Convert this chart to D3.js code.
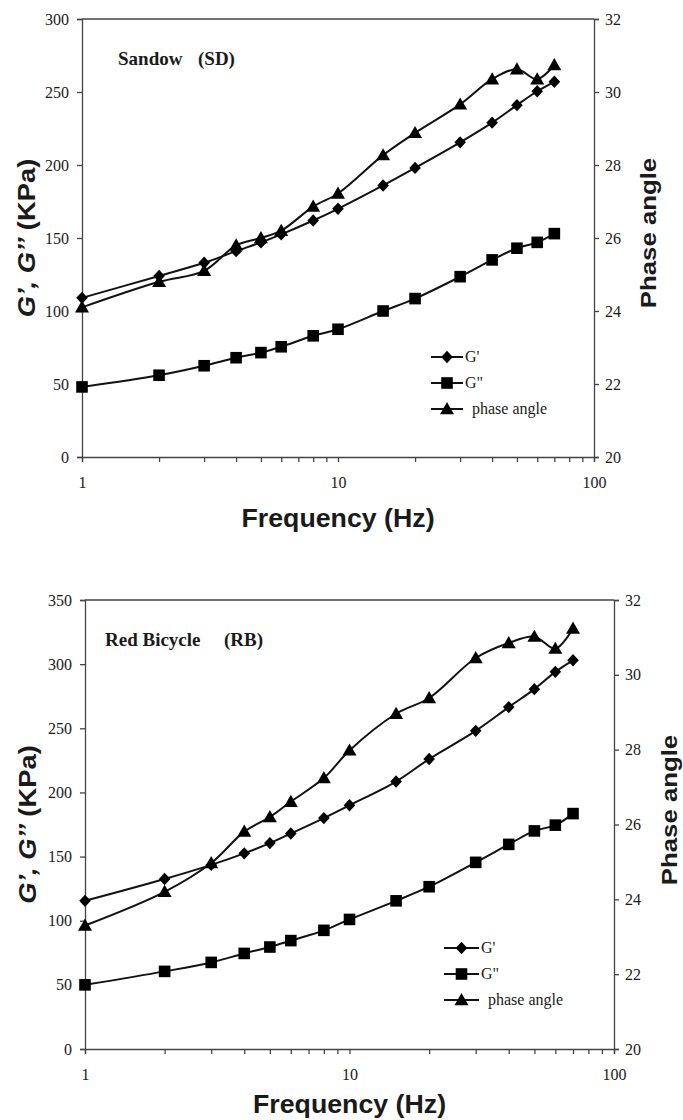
<!DOCTYPE html>
<html>
<head>
<meta charset="utf-8">
<script src="https://cdn.jsdelivr.net/npm/d3@7"></script>
<style>
  body { margin: 0; background: #fff; }
  svg text { fill: #1a1a1a; }
</style>
</head>
<body>
<script>
// frequencies (Hz)
var freq = [1, 2, 3, 4, 5, 6, 8, 10, 15, 20, 30, 40, 50, 60, 70];

// Sandow (SD)
var sdStorage = [109, 124, 133, 141, 147, 152.5, 162, 170, 186, 198, 215.5, 229, 241, 250.5, 257];
var sdLoss = [48, 56, 62.5, 68, 71.5, 75.5, 83, 87.5, 100, 108.5, 123.5, 135, 143, 147, 153];
var sdPhase = [24.1, 24.8, 25.1, 25.8, 26.0, 26.2, 26.86, 27.22, 28.27, 28.88, 29.66, 30.35, 30.62, 30.35, 30.74];

// Red Bicycle (RB)
var rbStorage = [115.5, 132.5, 143.5, 152.5, 160.5, 168, 180, 190, 208.5, 226, 248, 266.5, 280.5, 294, 303];
var rbLoss = [50, 60.5, 67.5, 74.5, 79.5, 84.5, 92.5, 101, 115.5, 126.5, 145.5, 159.5, 170, 174.5, 183.5];
var rbPhase = [23.3, 24.2, 24.97, 25.81, 26.2, 26.61, 27.24, 27.98, 28.96, 29.38, 30.45, 30.85, 31.02, 30.7, 31.24];

// ticks
var xLabelTicks = [1, 10, 100];
var sdLeftTicks = [0, 50, 100, 150, 200, 250, 300];
var rbLeftTicks = [0, 50, 100, 150, 200, 250, 300, 350];
var rightTicks = [20, 22, 24, 26, 28, 30, 32];

var seriesNames = ["G'", "G\"", "phase angle"];

var svg = d3.select("body").append("svg")
  .attr("width", 683)
  .attr("height", 1120);

// x minor ticks: 1..9, 10..90, 100
var xAllTicks = [];
[1, 10].forEach(function(p){ for (var i = 1; i < 10; i++) xAllTicks.push(i * p); });
xAllTicks.push(100);

var serif = "'Liberation Serif', 'Times New Roman', serif";
var sans = "'Liberation Sans', Arial, sans-serif";

function markerPath(kind){
  if (kind === "diamond") return "M0,-6.2L5.8,0L0,6.2L-5.8,0Z";
  if (kind === "square") return "M-5.8,-5.8H5.8V5.8H-5.8Z";
  return "M0,-7L7,5.2L-7,5.2Z";
}

function drawPanel(cfg){
  var g = svg.append("g");

  var x = d3.scaleLog().domain([1, 100]).range([cfg.left, cfg.right]);
  var yL = d3.scaleLinear().domain([0, cfg.leftMax]).range([cfg.bottom, cfg.top]);
  var yR = d3.scaleLinear().domain([20, 32]).range([cfg.bottom, cfg.top]);

  // frame top line
  g.append("line")
    .attr("x1", cfg.left).attr("x2", cfg.right)
    .attr("y1", cfg.top).attr("y2", cfg.top)
    .attr("stroke", "#444").attr("stroke-width", 1.3);

  var xAxis = g.append("g")
    .attr("transform", "translate(0," + cfg.bottom + ")")
    .call(d3.axisBottom(x).tickValues(xAllTicks).tickSize(5).tickPadding(15)
      .tickFormat(function(d){ return xLabelTicks.indexOf(d) >= 0 ? d : ""; }));

  var leftAxis = g.append("g")
    .attr("transform", "translate(" + cfg.left + ",0)")
    .call(d3.axisLeft(yL).tickValues(cfg.leftTicks).tickSize(5).tickPadding(8));

  var rightAxis = g.append("g")
    .attr("transform", "translate(" + cfg.right + ",0)")
    .call(d3.axisRight(yR).tickValues(rightTicks).tickSize(5).tickPadding(6));

  [xAxis, leftAxis, rightAxis].forEach(function(a){
    a.select(".domain").attr("stroke", "#444").attr("stroke-width", 1.3);
    a.selectAll(".tick line").attr("stroke", "#444").attr("stroke-width", 1.3);
    a.selectAll("text")
      .attr("font-family", serif)
      .attr("font-size", 16)
      .attr("fill", "#222");
  });

  var line = d3.line().curve(d3.curveCatmullRom.alpha(0.5));

  var series = [
    { vals: cfg.storage, scale: yL, kind: "diamond" },
    { vals: cfg.loss, scale: yL, kind: "square" },
    { vals: cfg.phase, scale: yR, kind: "triangle" }
  ];

  series.forEach(function(s){
    var pts = freq.map(function(f, i){ return [x(f), s.scale(s.vals[i])]; });
    g.append("path")
      .attr("d", line(pts))
      .attr("fill", "none")
      .attr("stroke", "#111")
      .attr("stroke-width", 2);
    g.selectAll(null).data(pts).enter().append("path")
      .attr("d", markerPath(s.kind))
      .attr("transform", function(p){ return "translate(" + p[0] + "," + p[1] + ")"; })
      .attr("fill", "#000");
  });

  // panel label
  g.append("text")
    .attr("x", cfg.labelX).attr("y", cfg.labelY)
    .attr("font-family", serif)
    .attr("font-weight", "bold").attr("font-size", 19)
    .text(cfg.name);
  g.append("text")
    .attr("x", cfg.codeX).attr("y", cfg.labelY)
    .attr("font-family", serif)
    .attr("font-weight", "bold").attr("font-size", 19)
    .text(cfg.code);

  // legend
  series.forEach(function(s, i){
    var ly = cfg.legY + i * cfg.legStep;
    g.append("line")
      .attr("x1", cfg.legX).attr("x2", cfg.legX + cfg.legLen)
      .attr("y1", ly).attr("y2", ly)
      .attr("stroke", "#111").attr("stroke-width", 2);
    g.append("path")
      .attr("d", markerPath(s.kind))
      .attr("transform", "translate(" + (cfg.legX + cfg.legLen / 2) + "," + ly + ")")
      .attr("fill", "#000");
    g.append("text")
      .attr("x", cfg.legX + cfg.legLen + (i === 2 ? 9 : 2))
      .attr("y", ly + 5)
      .attr("font-family", serif)
      .attr("font-size", 16)
      .text(seriesNames[i]);
  });

  // axis titles
  g.append("text")
    .attr("transform", "translate(" + ((cfg.left + cfg.right) / 2) + "," + cfg.xTitleY + ") scale(1.07,1)")
    .attr("text-anchor", "middle")
    .attr("font-family", sans)
    .attr("font-weight", "bold").attr("font-size", 25)
    .text("Frequency (Hz)");

  var yt = g.append("text")
    .attr("transform", "translate(" + cfg.yTitleX + "," + ((cfg.top + cfg.bottom) / 2) + ") rotate(-90) scale(1.14,1)")
    .attr("text-anchor", "middle")
    .attr("font-family", sans)
    .attr("font-weight", "bold").attr("font-size", 24);
  yt.append("tspan").attr("font-style", "italic").text("G\u2019, G\u2019\u2019");
  yt.append("tspan").text(" (KPa)");

  g.append("text")
    .attr("transform", "translate(" + cfg.rTitleX + "," + cfg.rTitleY + ") rotate(-90) scale(1.12,1)")
    .attr("text-anchor", "middle")
    .attr("font-family", sans)
    .attr("font-weight", "bold").attr("font-size", 23)
    .text("Phase angle");
}

drawPanel({
  left: 82, right: 594, top: 19, bottom: 457,
  leftMax: 300, leftTicks: sdLeftTicks,
  storage: sdStorage, loss: sdLoss, phase: sdPhase,
  name: "Sandow", code: "(SD)", labelX: 118, codeX: 198, labelY: 65,
  legX: 431, legLen: 32, legY: 357, legStep: 26,
  xTitleY: 527, yTitleX: 35, rTitleX: 656, rTitleY: 233
});

drawPanel({
  left: 85, right: 614, top: 600, bottom: 1049,
  leftMax: 350, leftTicks: rbLeftTicks,
  storage: rbStorage, loss: rbLoss, phase: rbPhase,
  name: "Red Bicycle", code: "(RB)", labelX: 105, codeX: 224, labelY: 646,
  legX: 444, legLen: 35, legY: 948, legStep: 26,
  xTitleY: 1113, yTitleX: 36, rTitleX: 677, rTitleY: 810
});
</script>
</body>
</html>
